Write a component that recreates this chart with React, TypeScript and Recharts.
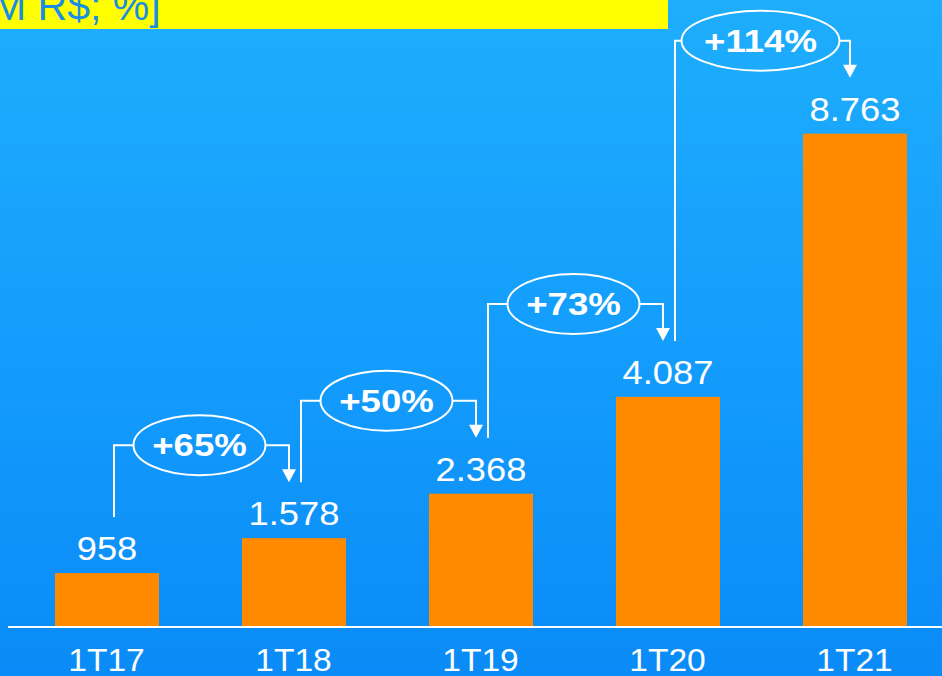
import { BarChart, Bar, XAxis, YAxis } from 'recharts';

const CATEGORIES = ['1T17', '1T18', '1T19', '1T20', '1T21'];
const VALUES = [958, 1578, 2368, 4087, 8763];
const VALUE_LABELS = ['958', '1.578', '2.368', '4.087', '8.763'];
const GROWTH_LABELS = ['+65%', '+50%', '+73%', '+114%'];
const TITLE = 'M R$; %]';

const FONT = '"Liberation Sans", Arial, sans-serif';
const ORANGE = '#ff8a00';
const STEP = 935 / CATEGORIES.length;

const data = CATEGORIES.map((c, i) => ({ name: c, value: VALUES[i] }));

function BarShape(props: any) {
  const { x, y, width, height, index } = props;
  const cx = x + width / 2;
  const base = y + height;
  const k = height / VALUES[index];

  let growth = null;
  if (index > 0) {
    // connector from previous bar's label, via the ellipse, down to this bar's label
    const prevTop = base - VALUES[index - 1] * k;
    const prevCx = cx - STEP;
    const leftX = prevCx + 7;
    const rightX = cx - 5;
    const ex = (prevCx + cx) / 2 - 1;
    const ey = y - 93;
    const label = GROWTH_LABELS[index - 1];
    const rx = label.length * 13 + 14;
    const ry = 30;
    growth = (
      <g>
        <polyline
          points={`${leftX},${prevTop - 56} ${leftX},${ey} ${ex - rx},${ey}`}
          fill="none"
          stroke="#fff"
          strokeWidth={2}
        />
        <polyline
          points={`${ex + rx},${ey} ${rightX},${ey} ${rightX},${y - 68}`}
          fill="none"
          stroke="#fff"
          strokeWidth={2}
        />
        <polygon
          points={`${rightX - 7},${y - 69} ${rightX + 7},${y - 69} ${rightX},${y - 56}`}
          fill="#fff"
        />
        <ellipse cx={ex} cy={ey} rx={rx} ry={ry} fill="none" stroke="#fff" strokeWidth={2} />
        <text
          transform={`translate(${ex},${ey + 11}) scale(1.18,1)`}
          textAnchor="middle"
          fill="#fff"
          fontSize={31}
          fontWeight="bold"
          fontFamily={FONT}
        >
          {label}
        </text>
      </g>
    );
  }

  return (
    <g>
      <rect x={x} y={y} width={width} height={height} fill={ORANGE} />
      <text
        transform={`translate(${cx},${y - 13}) scale(1.1,1)`}
        textAnchor="middle"
        fill="#fff"
        fontSize={33}
        fontFamily={FONT}
      >
        {VALUE_LABELS[index]}
      </text>
      {growth}
    </g>
  );
}

function Tick(props: any) {
  const { x, y, payload } = props;
  return (
    <text
      transform={`translate(${x},${y + 44}) scale(1.05,1)`}
      textAnchor="middle"
      fill="#fff"
      fontSize={32}
      fontFamily={FONT}
    >
      {payload.value}
    </text>
  );
}

export default function App() {
  return (
    <div
      style={{
        position: 'absolute',
        left: 0,
        top: 0,
        width: 942,
        height: 676,
        overflow: 'hidden',
        background: 'linear-gradient(180deg, #1eaefc 0%, #159ffd 45%, #0a8bf7 100%)',
      }}
    >
      <BarChart
        width={950}
        height={676}
        data={data}
        margin={{ top: 64, right: 2, left: 8, bottom: 0 }}
      >
        <XAxis
          dataKey="name"
          height={49}
          padding={{ left: 5, right: 0 }}
          axisLine={{ stroke: '#fff', strokeWidth: 2 }}
          tickLine={false}
          tickSize={0}
          tickMargin={0}
          tick={<Tick />}
          interval={0}
        />
        <YAxis hide domain={[0, 10000]} />
        <Bar dataKey="value" barSize={104} shape={<BarShape />} isAnimationActive={false} />
      </BarChart>
      <svg
        width={668}
        height={29}
        style={{ position: 'absolute', left: 0, top: 0, background: '#ffff00' }}
      >
        <text x={-8} y={20} fontSize={41} fontFamily={FONT} fill="#1a8ee6">
          {TITLE}
        </text>
      </svg>
    </div>
  );
}
